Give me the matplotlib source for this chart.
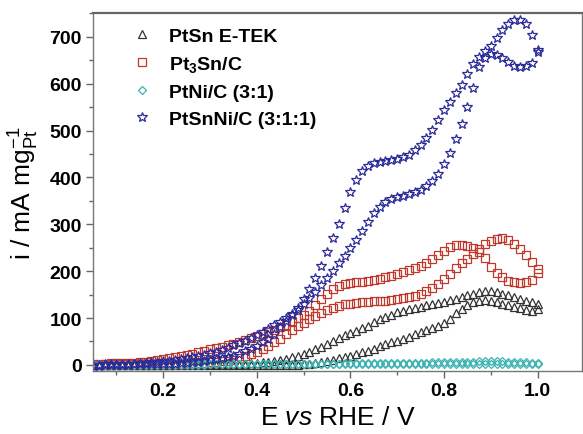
import numpy as np
import matplotlib
matplotlib.use("Agg")
import matplotlib.pyplot as plt
from matplotlib.ticker import MultipleLocator

plt.rcParams['font.family'] = ['Liberation Sans', 'DejaVu Sans']
plt.rcParams['mathtext.fontset'] = 'custom'
plt.rcParams['mathtext.rm'] = 'Liberation Sans'
plt.rcParams['mathtext.it'] = 'Liberation Sans:italic'
plt.rcParams['mathtext.bf'] = 'Liberation Sans:bold'

# Potential sampling of the cyclic scans (V vs RHE), 12.5 mV steps
E = np.linspace(0.05, 1.0, 77)

# PtSn E-TEK (mA mg_Pt^-1)
ptsn_upper = [0, 0, 0, 0, 0, 0, 0, 0, 0, 0, 0, 0, 0, 0, 1, 1, 1, 1, 1, 1,
              1, 1, 2, 2, 2, 3, 3, 4, 4, 6, 7, 9, 10, 13, 16, 19, 23, 27, 33, 38,
              45, 51, 57, 63, 68, 73, 79, 84, 91, 97, 102, 106, 112, 116, 119, 122, 124, 127, 129, 132,
              135, 138, 141, 145, 149, 152, 155, 157, 157, 156, 152, 149, 145, 141, 137, 134, 130]
ptsn_lower = [0, 0, 0, 0, 0, 0, 0, 0, 0, 0, 0, 0, 0, 0, 0, 0, 0, 0, 0, 0,
              0, 0, 0, 0, 0, 0, 0, 0, 0, 0, 0, 0, 0, 0, 0, 0, 1, 2, 4, 6,
              8, 11, 14, 17, 20, 23, 27, 30, 35, 41, 45, 48, 51, 55, 60, 65, 70, 74, 79, 84,
              90, 98, 110, 120, 128, 134, 137, 138, 137, 135, 131, 128, 124, 121, 118, 116, 120]

# Pt3Sn/C
pt3sn_fwd = [0, 0, 0, 1, 1, 1, 1, 1, 2, 2, 2, 2, 2, 3, 3, 3, 4, 4, 5, 5,
             6, 7, 8, 9, 11, 14, 18, 23, 28, 34, 41, 49, 56, 65, 74, 82, 90, 98, 105, 111,
             117, 121, 126, 129, 131, 133, 134, 135, 136, 136, 137, 138, 140, 143, 145, 147, 151, 157, 164, 173,
             184, 195, 206, 217, 227, 236, 248, 258, 265, 269, 270, 267, 259, 248, 234, 219, 205]
pt3sn_bwd = [3, 3, 3, 4, 4, 5, 5, 5, 6, 7, 8, 10, 12, 14, 16, 18, 21, 24, 27, 30,
             33, 36, 39, 42, 45, 49, 53, 57, 61, 65, 70, 75, 80, 86, 93, 100, 107, 116, 128, 140,
             152, 162, 168, 172, 175, 176, 178, 180, 181, 184, 187, 190, 194, 198, 202, 206, 211, 218, 226, 234,
             243, 251, 255, 256, 254, 250, 242, 228, 208, 196, 187, 180, 176, 174, 176, 182, 196]

# PtNi/C (3:1)
ptni_fwd = [0, 0, 0, 0, 0, 0, 0, 0, 0, 0, 0, 0, 0, 0, 0, 0, 0, 0, 0, 0,
            1, 1, 1, 1, 1, 1, 1, 1, 1, 1, 1, 1, 1, 2, 2, 2, 2, 2, 2, 2,
            2, 2, 2, 2, 2, 2, 2, 2, 2, 2, 2, 2, 2, 2, 2, 3, 3, 3, 3, 3,
            3, 3, 3, 3, 3, 3, 3, 3, 3, 3, 3, 3, 3, 3, 3, 3, 3]
ptni_bwd = [1, 1, 1, 1, 1, 1, 1, 1, 1, 1, 1, 1, 1, 1, 1, 1, 1, 1, 1, 1,
            2, 2, 2, 2, 2, 2, 2, 2, 2, 2, 2, 2, 3, 3, 3, 3, 3, 3, 3, 3,
            3, 3, 3, 4, 4, 4, 4, 4, 4, 4, 4, 4, 5, 5, 5, 5, 5, 5, 6, 6,
            6, 6, 7, 7, 7, 7, 8, 8, 8, 8, 8, 7, 7, 6, 6, 5, 4]

# PtSnNi/C (3:1:1)
ptsnni_fwd = [-2, -2, -1, -1, 0, 0, 0, 1, 1, 1, 1, 2, 2, 3, 3, 4, 5, 6, 7, 8,
              10, 12, 14, 17, 20, 24, 29, 34, 40, 48, 56, 67, 80, 93, 107, 122, 140, 162, 185, 212,
              240, 270, 300, 335, 370, 395, 413, 425, 431, 434, 436, 438, 440, 443, 448, 458, 470, 485, 502, 522,
              545, 562, 580, 598, 620, 642, 658, 670, 681, 697, 715, 728, 736, 737, 727, 705, 672]
ptsnni_bwd = [0, 0, 1, 1, 2, 2, 3, 3, 4, 5, 6, 7, 8, 9, 11, 12, 14, 16, 19, 21,
              25, 28, 32, 37, 43, 47, 52, 57, 63, 70, 77, 85, 92, 100, 109, 118, 130, 142, 155, 170,
              185, 200, 217, 232, 250, 266, 285, 305, 325, 338, 348, 354, 358, 361, 364, 368, 374, 382, 392, 408,
              428, 452, 482, 515, 550, 590, 635, 656, 663, 662, 655, 646, 638, 635, 637, 645, 668]

series = [
    ("PtSn E-TEK", [ptsn_upper, ptsn_lower], "^", "#333333", 6.0),
    (r"Pt$_\mathbf{3}$Sn/C", [pt3sn_fwd, pt3sn_bwd], "s", "#c0392f", 5.5),
    ("PtNi/C (3:1)", [ptni_fwd, ptni_bwd], "D", "#3fb3b3", 4.5),
    ("PtSnNi/C (3:1:1)", [ptsnni_fwd, ptsnni_bwd], "*", "#2b2b9a", 7.5),
]

fig = plt.figure(figsize=(5.83, 4.35), dpi=100)
ax = fig.add_axes([0.1595, 0.1448, 0.8388, 0.823])

for label, branches, marker, color, ms in series:
    for i, y in enumerate(branches):
        ax.plot(E, y, linestyle="none", marker=marker, ms=ms,
                markerfacecolor="none", markeredgecolor=color, markeredgewidth=0.9,
                label=label if i == 0 else None)

ax.set_xlim(0.05, 1.095)
ax.set_ylim(-13, 751)
ax.xaxis.set_major_locator(MultipleLocator(0.2))
ax.xaxis.set_minor_locator(MultipleLocator(0.1))
ax.yaxis.set_major_locator(MultipleLocator(100))
ax.yaxis.set_minor_locator(MultipleLocator(50))
ax.set_xticks([0.2, 0.4, 0.6, 0.8, 1.0])
ax.set_xticklabels(["0.2", "0.4", "0.6", "0.8", "1.0"])

ax.tick_params(which="both", direction="out", color="#666666", width=1.0)
ax.tick_params(which="major", length=5, labelsize=14, pad=3)
ax.tick_params(which="minor", length=3)
for lab in ax.get_xticklabels() + ax.get_yticklabels():
    lab.set_fontweight("bold")

for side in ["left", "bottom", "right"]:
    ax.spines[side].set_color("#777777")
    ax.spines[side].set_linewidth(1.0)
ax.spines["top"].set_color("#666666")
ax.spines["top"].set_linewidth(1.6)

ax.set_xlabel(r"E $\mathit{vs}$ RHE / V", fontsize=19, labelpad=4)
ax.set_ylabel(r"i / mA mg$_{\mathrm{Pt}}^{\mathrm{-1}}$", fontsize=19, labelpad=6)

leg = ax.legend(loc="upper left", bbox_to_anchor=(0.04, 1.01), frameon=False,
                numpoints=1, handlelength=1.2, handletextpad=0.8, labelspacing=0.48,
                prop={"weight": "bold", "size": 14})

fig.savefig("out.png", dpi=100)
